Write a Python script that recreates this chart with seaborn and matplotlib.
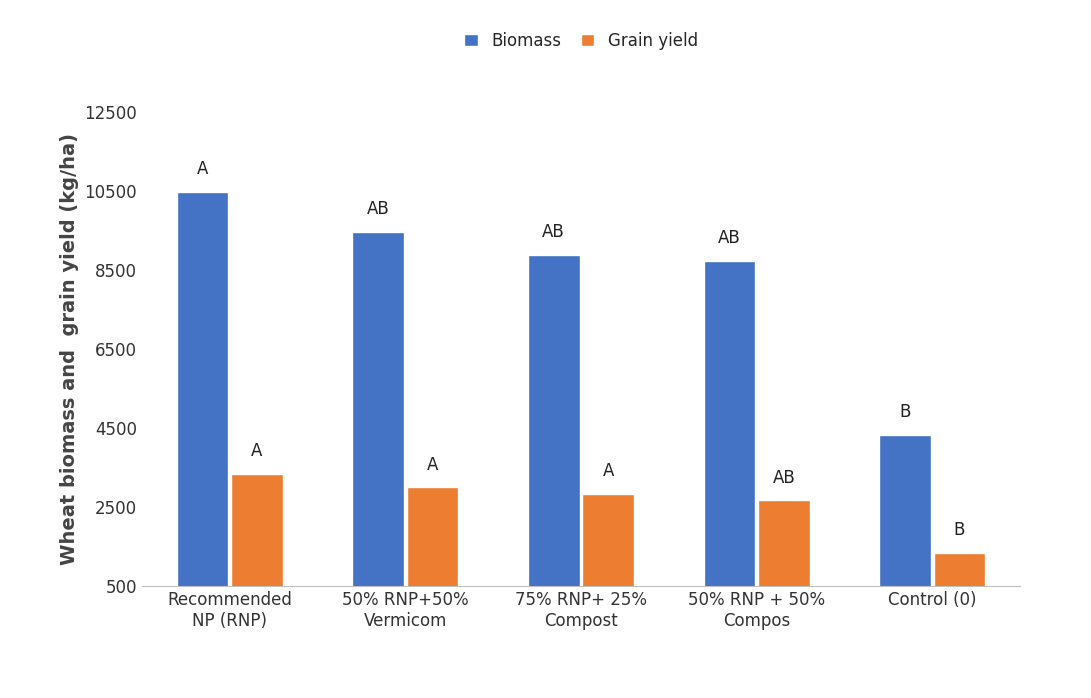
import pandas as pd
import seaborn as sns
import matplotlib.pyplot as plt

treatments = ["Recommended\nNP (RNP)", "50% RNP+50%\nVermicom", "75% RNP+ 25%\nCompost",
              "50% RNP + 50%\nCompos", "Control (0)"]
biomass = [10460, 9470, 8880, 8730, 4320]
grain = [3350, 3000, 2840, 2670, 1340]
biomass_letters = ["A", "AB", "AB", "AB", "B"]
grain_letters = ["A", "A", "A", "AB", "B"]

df = pd.DataFrame({
    "Treatment": treatments * 2,
    "Value": biomass + grain,
    "Series": ["Biomass"] * 5 + ["Grain yield"] * 5,
})

sns.set_style("white")
fig, ax = plt.subplots(figsize=(10.91, 6.98), dpi=100)
sns.barplot(data=df, x="Treatment", y="Value", hue="Series",
            palette=["#4472C4", "#ED7D31"], width=0.62, gap=0.05,
            ax=ax, saturation=1)

for patches, letters in zip(ax.containers, [biomass_letters, grain_letters]):
    ax.bar_label(patches, labels=letters, padding=10, fontsize=12, color="#222222")

ax.set_ylim(500, 12500)
ax.set_yticks(range(500, 12501, 2000))
ax.set_xlabel("")
ax.set_ylabel("Wheat biomass and  grain yield (kg/ha)", fontsize=14,
              fontweight="bold", color="#444444")
ax.tick_params(axis="both", labelsize=12, colors="#333333", length=0)
for s in ["top", "right", "left"]:
    ax.spines[s].set_visible(False)
ax.spines["bottom"].set_color("#BFBFBF")

ax.legend(loc="upper center", bbox_to_anchor=(0.5, 1.2), ncol=2, frameon=False,
          fontsize=12, handlelength=0.8, handleheight=0.8, columnspacing=1.2)
plt.subplots_adjust(left=0.13, right=0.935, top=0.84, bottom=0.16)
fig.savefig("out.png", dpi=100)
